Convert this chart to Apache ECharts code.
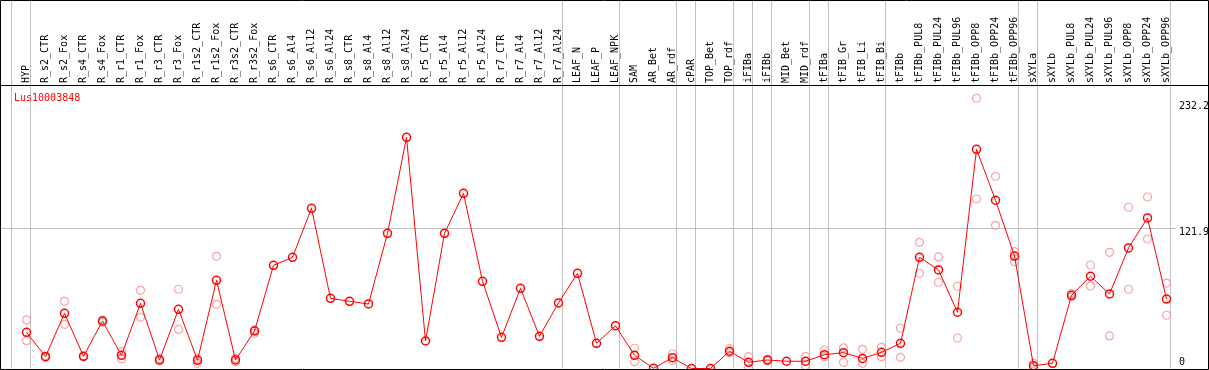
<!DOCTYPE html>
<html>
<head>
<meta charset="utf-8">
<title>Lus10003848</title>
<script src="https://cdn.jsdelivr.net/npm/echarts@6/dist/echarts.min.js"></script>
<style>
  html, body { margin: 0; padding: 0; background: #fff; }
  #chart { width: 1209px; height: 370px; }
</style>
</head>
<body>
<div id="chart"></div>
<script>
const geneName = 'Lus10003848'

const samples = [
  'HYP', 'R_s2_CTR', 'R_s2_Fox', 'R_s4_CTR', 'R_s4_Fox', 'R_r1_CTR', 'R_r1_Fox',
  'R_r3_CTR', 'R_r3_Fox', 'R_r1s2_CTR', 'R_r1s2_Fox', 'R_r3s2_CTR', 'R_r3s2_Fox',
  'R_s6_CTR', 'R_s6_Al4', 'R_s6_Al12', 'R_s6_Al24', 'R_s8_CTR', 'R_s8_Al4',
  'R_s8_Al12', 'R_s8_Al24', 'R_r5_CTR', 'R_r5_Al4', 'R_r5_Al12', 'R_r5_Al24',
  'R_r7_CTR', 'R_r7_Al4', 'R_r7_Al12', 'R_r7_Al24', 'LEAF_N', 'LEAF_P', 'LEAF_NPK',
  'SAM', 'AR_Bet', 'AR_rdf', 'cPAR', 'TOP_Bet', 'TOP_rdf', 'iFIBa', 'iFIBb',
  'MID_Bet', 'MID_rdf', 'tFIBa', 'tFIB_Gr', 'tFIB_Li', 'tFIB_Bi', 'tFIBb',
  'tFIBb_PUL8', 'tFIBb_PUL24', 'tFIBb_PUL96', 'tFIBb_OPP8', 'tFIBb_OPP24', 'tFIBb_OPP96',
  'sXYLa', 'sXYLb', 'sXYLb_PUL8', 'sXYLb_PUL24', 'sXYLb_PUL96', 'sXYLb_OPP8',
  'sXYLb_OPP24', 'sXYLb_OPP96'
]

// mean expression
const meanValues = [
  31.5, 10.3, 48, 10.6, 41.3, 11.5, 56.7, 7.4, 51.5, 7.1, 76.7, 7.4, 32.6,
  89.7, 96.7, 139.3, 61, 58.4, 56.1, 117.5, 201, 23.9, 117.5, 152.3, 75.8,
  27.1, 69.7, 28, 57, 82.8, 21.9, 37.2,
  11.5, 0.2, 9.4, 0, 0, 15, 5.4, 7.4, 6.3, 6.3, 12, 13.8, 8.8, 14.1, 21.9,
  96.7, 85.7, 48.9, 190.6, 146.3, 97.8,
  2.4, 4.5, 63.6, 80.2, 64.8, 104.8, 130.9, 60.4
]

// replicates (null where only one value)
const repHigh = [
  42.2, 11, 58.4, 11, 42, 14.6, 68, 8.5, 68.9, 8.8, 97.5, 8.8, 33.5,
  null, null, null, null, null, null, null, null, null, null, null, null,
  null, null, null, null, null, null, null,
  17.6, null, 12.6, null, null, 17.2, 10.3, 8, null, 10.3, 16.1, 18, 16.7, 18.4, 35,
  109.7, 97, 71.5, 235, 167.1, 101.6,
  4.5, null, 65.4, 90, 101, 140.2, 149.1, 74.3
]
const repLow = [
  24.2, 9.8, 38.4, 10, 40, 8.5, 44.5, 6.5, 34, 4.5, 55.8, 5.9, 30.6,
  null, null, null, null, null, null, null, null, null, null, null, null,
  null, null, null, null, null, null, null,
  5.9, null, 7.1, null, null, 13.8, 0.2, 6.5, null, 2.4, 10.3, 5.4, 4.5, 10.3, 9.7,
  82.8, 75, 26.5, 147.4, 124.5, 92.9,
  1, null, 62.4, 71.7, 28.3, 68.9, 112.6, 46.3
]

// vertical separators drawn just after these sample indices
const groupEnds = [-1, 0, 28, 31, 34, 35, 37, 38, 39, 41, 42, 45, 52, 53, 60]
const yTicks = [0, 121.9, 232.2]
const gridValue = 121.9

const mono = 'DejaVu Sans Mono'
const gray = '#c0c0c0'

function pairs(arr) {
  return arr.map((v, i) => (v == null ? null : [i, v])).filter((p) => p)
}

let myChart = echarts.init(document.getElementById('chart'))

let option = {
  animation: false,
  title: {
    text: geneName,
    left: 9,
    top: 88,
    textStyle: { color: '#ff0000', fontSize: 10, fontWeight: 'normal', fontFamily: mono },
  },
  grid: {
    left: 17,
    right: 33,
    top: 85,
    bottom: 1.5,
    outerBoundsMode: 'none',
  },
  xAxis: {
    type: 'category',
    position: 'top',
    data: samples,
    boundaryGap: true,
    axisLine: { show: false },
    axisTick: { show: false },
    splitLine: { show: false },
    axisLabel: {
      interval: 0,
      rotate: 90,
      margin: 2,
      color: '#000',
      fontSize: 10,
      fontFamily: mono,
    },
  },
  yAxis: {
    type: 'value',
    position: 'right',
    min: 0,
    max: 246.5,
    axisLine: { show: false },
    axisTick: { show: false },
    splitLine: { show: false },
    axisLabel: {
      customValues: yTicks,
      margin: 3,
      color: '#000',
      fontSize: 10,
      fontFamily: mono,
      formatter: function (v) {
        return v === 0 ? '{z|0}' : '{n|' + v + '}'
      },
      rich: {
        n: { fontSize: 10, fontFamily: mono, padding: [9, 0, 0, 0] },
        z: { fontSize: 10, fontFamily: mono, padding: [0, 0, 12, 0] },
      },
    },
  },
  graphic: [
    {
      type: 'rect',
      shape: { x: 0.5, y: 0.5, width: 1208, height: 369 },
      style: { fill: 'none', stroke: '#000', lineWidth: 1 },
      z: 100,
    },
    {
      type: 'line',
      shape: { x1: 0, y1: 85.5, x2: 1209, y2: 85.5 },
      style: { stroke: '#000', lineWidth: 1 },
      z: 100,
    },
  ],
  series: [
    {
      type: 'custom',
      name: 'separators',
      silent: true,
      clip: false,
      z: 0,
      data: groupEnds.map((i) => [i]),
      renderItem: function (params, api) {
        let x0 = api.coord([0, 0])[0]
        let band = api.size([1, 0])[0]
        let x = Math.round(x0 + api.value(0) * band + band * 0.21) + 0.5
        let cs = params.coordSys
        return {
          type: 'line',
          shape: { x1: x, y1: 0, x2: x, y2: cs.y + cs.height },
          style: { stroke: gray, lineWidth: 1 },
        }
      },
    },
    {
      type: 'custom',
      name: 'gridline',
      silent: true,
      clip: false,
      z: 0,
      data: [[0, gridValue]],
      renderItem: function (params, api) {
        let y = Math.round(api.coord([0, api.value(1)])[1]) + 0.5
        let cs = params.coordSys
        return {
          type: 'line',
          shape: { x1: 0, y1: y, x2: cs.x + cs.width, y2: y },
          style: { stroke: gray, lineWidth: 1 },
        }
      },
    },
    {
      type: 'scatter',
      name: 'rep high',
      symbol: 'circle',
      symbolSize: 8,
      z: 2,
      itemStyle: { color: 'rgba(0,0,0,0)', borderColor: '#f09090', borderWidth: 1.2 },
      data: pairs(repHigh),
    },
    {
      type: 'scatter',
      name: 'rep low',
      symbol: 'circle',
      symbolSize: 8,
      z: 2,
      itemStyle: { color: 'rgba(0,0,0,0)', borderColor: '#f09090', borderWidth: 1.2 },
      data: pairs(repLow),
    },
    {
      type: 'line',
      name: geneName,
      symbol: 'circle',
      symbolSize: 8,
      showAllSymbol: true,
      z: 3,
      lineStyle: { color: '#ff0000', width: 1 },
      itemStyle: { color: 'rgba(0,0,0,0)', borderColor: '#ff0000', borderWidth: 1.5 },
      data: meanValues,
    },
  ],
}

myChart.setOption(option)
</script>
</body>
</html>
